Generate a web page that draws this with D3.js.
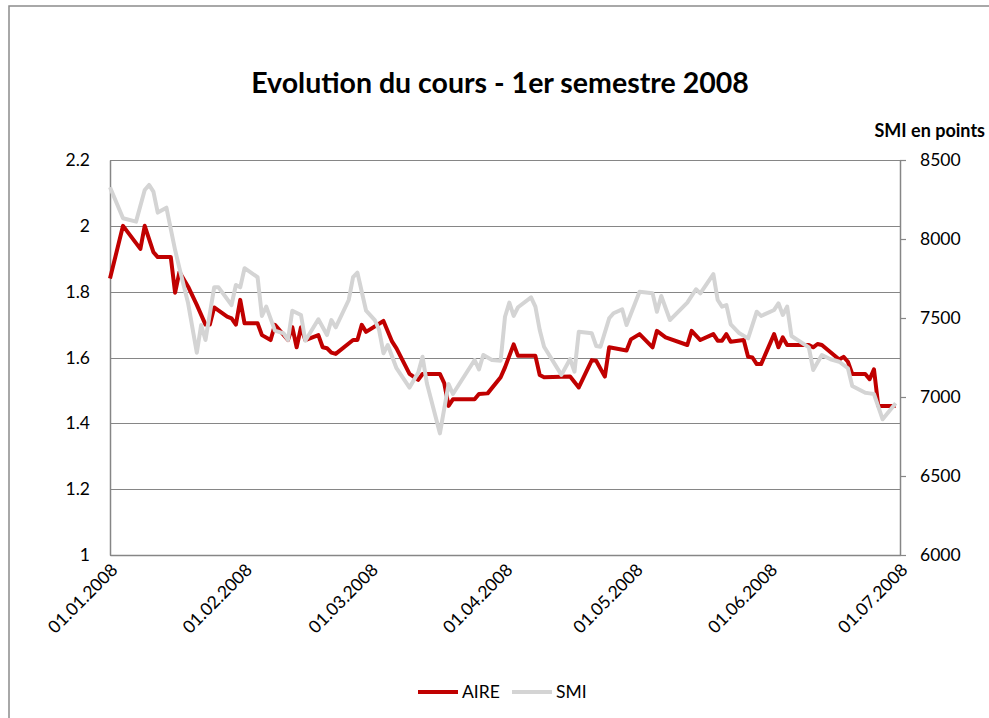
<!DOCTYPE html>
<html>
<head>
<meta charset="utf-8">
<script src="https://cdn.jsdelivr.net/npm/d3@7"></script>
<style>
  body { margin: 0; background: #fff; }
  text { font-family: Lato, "Open Sans", sans-serif; fill: #000; }
</style>
</head>
<body>
<div id="chart"></div>
<script>
const aireDates = ['01.01.2008','04.01.2008','08.01.2008','09.01.2008','11.01.2008','12.01.2008','15.01.2008','16.01.2008','17.01.2008','19.01.2008',
  '21.01.2008','23.01.2008','24.01.2008','25.01.2008','28.01.2008','29.01.2008','30.01.2008','31.01.2008','01.02.2008','04.02.2008',
  '05.02.2008','07.02.2008','08.02.2008','11.02.2008','12.02.2008','13.02.2008','14.02.2008','15.02.2008','18.02.2008','19.02.2008',
  '20.02.2008','21.02.2008','22.02.2008','26.02.2008','27.02.2008','28.02.2008','29.02.2008','04.03.2008','06.03.2008','07.03.2008',
  '10.03.2008','12.03.2008','13.03.2008','17.03.2008','18.03.2008','19.03.2008','20.03.2008','25.03.2008','26.03.2008','28.03.2008',
  '31.03.2008','01.04.2008','03.04.2008','04.04.2008','08.04.2008','09.04.2008','10.04.2008','16.04.2008','18.04.2008','21.04.2008',
  '22.04.2008','24.04.2008','25.04.2008','29.04.2008','30.04.2008','02.05.2008','05.05.2008','06.05.2008','08.05.2008','13.05.2008',
  '14.05.2008','16.05.2008','19.05.2008','20.05.2008','21.05.2008','22.05.2008','23.05.2008','26.05.2008','27.05.2008','28.05.2008',
  '29.05.2008','30.05.2008','02.06.2008','03.06.2008','04.06.2008','05.06.2008','10.06.2008','11.06.2008','12.06.2008','13.06.2008',
  '17.06.2008','18.06.2008','19.06.2008','20.06.2008','23.06.2008','24.06.2008','25.06.2008','26.06.2008','30.06.2008'];
const aireValues = [1.84, 2.00, 1.93, 2.00, 1.92, 1.905, 1.905, 1.797, 1.86, 1.815,
  1.76, 1.70, 1.70, 1.752, 1.724, 1.719, 1.70, 1.775, 1.704, 1.704,
  1.668, 1.653, 1.699, 1.653, 1.692, 1.631, 1.692, 1.653, 1.668, 1.631,
  1.628, 1.615, 1.611, 1.653, 1.653, 1.699, 1.678, 1.711, 1.648, 1.628,
  1.55, 1.532, 1.55, 1.55, 1.522, 1.453, 1.473, 1.473, 1.489, 1.491,
  1.54, 1.57, 1.64, 1.605, 1.605, 1.547, 1.54, 1.542, 1.509, 1.592,
  1.59, 1.542, 1.631, 1.621, 1.655, 1.671, 1.631, 1.681, 1.661, 1.638,
  1.681, 1.653, 1.671, 1.651, 1.651, 1.671, 1.648, 1.653, 1.602, 1.60,
  1.58, 1.58, 1.671, 1.631, 1.661, 1.638, 1.638, 1.631, 1.641, 1.638,
  1.594, 1.602, 1.587, 1.55, 1.55, 1.534, 1.564, 1.453, 1.453];

const smiDates = ['01.01.2008','04.01.2008','07.01.2008','09.01.2008','10.01.2008','11.01.2008','12.01.2008','14.01.2008','16.01.2008','17.01.2008',
  '19.01.2008','21.01.2008','22.01.2008','23.01.2008','25.01.2008','26.01.2008','29.01.2008','30.01.2008','31.01.2008','01.02.2008',
  '04.02.2008','05.02.2008','06.02.2008','08.02.2008','10.02.2008','11.02.2008','12.02.2008','14.02.2008','15.02.2008','18.02.2008',
  '20.02.2008','21.02.2008','22.02.2008','25.02.2008','26.02.2008','27.02.2008','29.02.2008','02.03.2008','03.03.2008','04.03.2008',
  '05.03.2008','07.03.2008','10.03.2008','12.03.2008','13.03.2008','14.03.2008','17.03.2008','19.03.2008','20.03.2008','25.03.2008',
  '26.03.2008','27.03.2008','29.03.2008','31.03.2008','01.04.2008','02.04.2008','03.04.2008','04.04.2008','07.04.2008','08.04.2008',
  '09.04.2008','10.04.2008','14.04.2008','16.04.2008','17.04.2008','18.04.2008','21.04.2008','22.04.2008','23.04.2008','25.04.2008',
  '26.04.2008','28.04.2008','29.04.2008','02.05.2008','04.05.2008','05.05.2008','06.05.2008','07.05.2008','09.05.2008','13.05.2008',
  '15.05.2008','16.05.2008','19.05.2008','20.05.2008','21.05.2008','22.05.2008','23.05.2008','25.05.2008','27.05.2008','29.05.2008',
  '30.05.2008','02.06.2008','03.06.2008','04.06.2008','05.06.2008','06.06.2008','10.06.2008','11.06.2008','13.06.2008','15.06.2008',
  '17.06.2008','19.06.2008','20.06.2008','23.06.2008','24.06.2008','25.06.2008','27.06.2008','30.06.2008'];
const smiValues = [8327, 8131, 8110, 8310, 8342, 8300, 8167, 8198, 7930, 7815,
  7593, 7280, 7456, 7361, 7694, 7694, 7582, 7709, 7694, 7815,
  7758, 7513, 7572, 7420, 7403, 7361, 7546, 7519, 7356, 7492,
  7392, 7487, 7441, 7614, 7758, 7787, 7546, 7487, 7424, 7277,
  7329, 7182, 7060, 7154, 7255, 7087, 6770, 7082, 7019, 7234,
  7175, 7266, 7234, 7230, 7508, 7597, 7513, 7568, 7631, 7572,
  7424, 7318, 7140, 7240, 7160, 7413, 7403, 7323, 7318, 7498,
  7530, 7555, 7456, 7666, 7660, 7656, 7540, 7639, 7487, 7597,
  7682, 7656, 7778, 7614, 7572, 7582, 7460, 7403, 7371, 7540,
  7513, 7551, 7593, 7519, 7572, 7386, 7314, 7171, 7266, 7239,
  7223, 7182, 7070, 7027, 7023, 7019, 6859, 6960];

const leftTicks = [1, 1.2, 1.4, 1.6, 1.8, 2, 2.2];
const rightTicks = [6000, 6500, 7000, 7500, 8000, 8500];
const seriesNames = ['AIRE', 'SMI'];
const seriesColors = ['#c00000', '#d4d4d4'];

const width = 989;
const height = 718;
const margin = { top: 160, right: 89, bottom: 163, left: 110 };
const parse = d3.timeParse('%d.%m.%Y');
const fmt = d3.timeFormat('%d.%m.%Y');

const svg = d3.select('#chart')
  .append('svg')
  .attr('width', width)
  .attr('height', height);

svg.append('rect')
  .attr('width', width).attr('height', height)
  .attr('fill', '#fff');

// outer chart frame (runs off the right and bottom edge)
svg.append('rect')
  .attr('x', 9).attr('y', 6)
  .attr('width', 1000).attr('height', 800)
  .attr('fill', 'none')
  .attr('stroke', '#8c8c8c')
  .attr('stroke-width', 1.5);

const x = d3.scaleTime()
  .domain([parse('01.01.2008'), parse('01.07.2008')])
  .range([margin.left, width - margin.right]);
const yLeft = d3.scaleLinear()
  .domain([1, 2.2])
  .range([height - margin.bottom, margin.top]);
const yRight = d3.scaleLinear()
  .domain([6000, 8500])
  .range([height - margin.bottom, margin.top]);

// gridlines
svg.append('g')
  .selectAll('line')
  .data(leftTicks)
  .enter()
  .append('line')
  .attr('x1', margin.left)
  .attr('x2', width - margin.right)
  .attr('y1', d => Math.round(yLeft(d)) + 0.5)
  .attr('y2', d => Math.round(yLeft(d)) + 0.5)
  .attr('stroke', '#868686')
  .attr('stroke-width', 1.2);

// left axis
const leftAxis = svg.append('g')
  .attr('transform', `translate(${margin.left},0)`)
  .call(d3.axisLeft(yLeft).tickValues(leftTicks).tickSize(0).tickPadding(20).tickFormat(d3.format('')));
leftAxis.select('.domain').attr('stroke', '#868686').attr('stroke-width', 1.5);
leftAxis.selectAll('text').style('font-size', '17.5px').style('font-family', 'Lato, sans-serif');

// right axis
const rightAxis = svg.append('g')
  .attr('transform', `translate(${width - margin.right},0)`)
  .call(d3.axisRight(yRight).tickValues(rightTicks).tickSize(6).tickSizeOuter(0).tickPadding(14).tickFormat(d3.format('d')));
rightAxis.select('.domain').attr('stroke', '#868686').attr('stroke-width', 1.5);
rightAxis.selectAll('.tick line').attr('stroke', '#868686').attr('stroke-width', 1.2);
rightAxis.selectAll('text').style('font-size', '17.5px').style('font-family', 'Lato, sans-serif');

// bottom axis
const bottomAxis = svg.append('g')
  .attr('transform', `translate(0,${height - margin.bottom})`)
  .call(d3.axisBottom(x).ticks(d3.timeMonth.every(1)).tickSize(0).tickFormat(fmt));
bottomAxis.select('.domain').attr('stroke', '#868686').attr('stroke-width', 1.5);
bottomAxis.selectAll('text')
  .style('font-size', '17.5px')
  .style('font-family', 'Lato, sans-serif')
  .attr('text-anchor', 'end')
  .attr('dy', '0')
  .attr('transform', 'translate(6,14) rotate(-45)');

// lines
const aire = aireDates.map((d, i) => ({ date: parse(d), value: aireValues[i] }));
const smi = smiDates.map((d, i) => ({ date: parse(d), value: smiValues[i] }));

const lineLeft = d3.line().x(d => x(d.date)).y(d => yLeft(d.value));
const lineRight = d3.line().x(d => x(d.date)).y(d => yRight(d.value));

svg.append('path')
  .datum(aire)
  .attr('d', lineLeft)
  .attr('fill', 'none')
  .attr('stroke', seriesColors[0])
  .attr('stroke-width', 4)
  .attr('stroke-linejoin', 'round');

svg.append('path')
  .datum(smi)
  .attr('d', lineRight)
  .attr('fill', 'none')
  .attr('stroke', seriesColors[1])
  .attr('stroke-width', 4)
  .attr('stroke-linejoin', 'round');

// title
svg.append('text')
  .attr('x', 500)
  .attr('y', 93)
  .attr('text-anchor', 'middle')
  .style('font-size', '28.5px')
  .style('font-weight', 'bold')
  .text('Evolution du cours - 1er semestre 2008');

svg.append('text')
  .attr('x', 985)
  .attr('y', 137)
  .attr('text-anchor', 'end')
  .style('font-size', '18px')
  .style('font-weight', 'bold')
  .text('SMI en points');

// legend
const legend = svg.append('g').attr('transform', 'translate(418,692)');
const items = legend.selectAll('g')
  .data(seriesNames)
  .enter()
  .append('g')
  .attr('transform', (d, i) => `translate(${i * 94},0)`);
items.append('line')
  .attr('x1', 0).attr('x2', 40)
  .attr('stroke', (d, i) => seriesColors[i])
  .attr('stroke-width', 4);
items.append('text')
  .attr('x', 44)
  .attr('y', 6)
  .style('font-size', '17.5px')
  .text(d => d);
</script>
</body>
</html>
